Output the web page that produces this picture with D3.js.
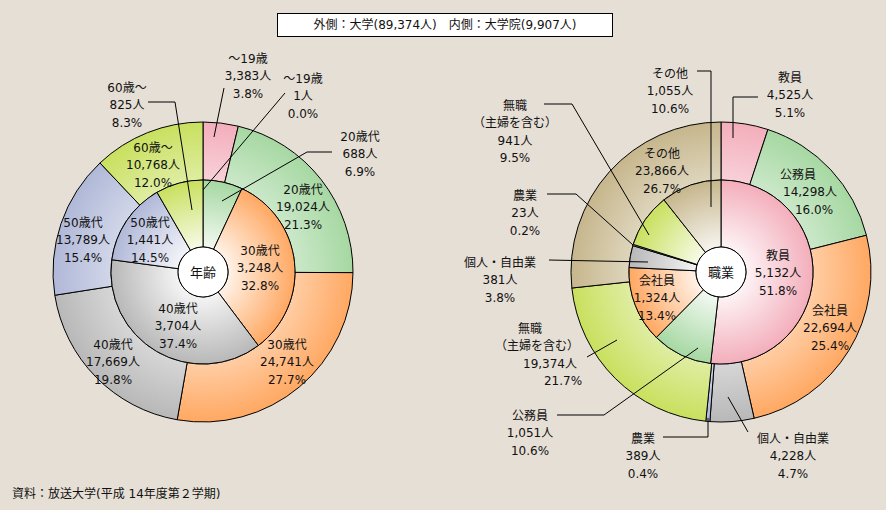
<!DOCTYPE html>
<html><head><meta charset="utf-8">
<script src="https://cdn.jsdelivr.net/npm/d3@7/dist/d3.min.js"></script>
<style>
html,body{margin:0;padding:0;background:#e6dfd6;}
svg{display:block;}
text{font-family:"DejaVu Sans","Noto Sans CJK JP",sans-serif;font-size:12px;fill:#111;}
</style></head>
<body><svg id="c" width="886" height="510"></svg>
<script>
// ---- data ----
const ageCategories = ["～19歳","20歳代","30歳代","40歳代","50歳代","60歳～"];
const ageUniversity = [3383,19024,24741,17669,13789,10768];   // outer
const ageGraduate  = [1,688,3248,3704,1441,825];               // inner
const jobCategories = ["教員","公務員","会社員","個人・自由業","農業","無職\n（主婦を含む）","その他"];
const jobUniversity = [4525,14298,22694,4228,389,19374,23866]; // outer
const jobGraduate  = [5132,1051,1324,381,23,941,1055];         // inner
const titleText = "外側：大学(89,374人)　内側：大学院(9,907人)";
const sourceText = "資料：放送大学(平成 14年度第２学期)";

// ---- styles ----
const ageColors = ["#f3aebb","#a6d8a2","#ffa862","#b8b8b8","#b0b8d8","#c8e05e"];
const jobColors = ["#f3aebb","#a6d8a2","#ffa862","#b8b8b8","#b0b8e0","#c8e05e","#c6b68c"];

const svg = d3.select("#c");
const defs = svg.append("defs");
const R0 = 25, R1 = 92, R2 = 150;
const fmtN = d3.format(",");
const fmtP = v => d3.format(".1f")(v) + "%";

function grad(id, base, inner, outer, lightAmt){
  const g = defs.append("radialGradient").attr("id", id)
    .attr("gradientUnits","userSpaceOnUse").attr("cx",0).attr("cy",0).attr("r",outer);
  const light = d3.interpolateRgb(base, "#ffffff")(lightAmt);
  g.append("stop").attr("offset", inner/outer).attr("stop-color", light);
  g.append("stop").attr("offset", 1).attr("stop-color", base);
}

function donut(key, cx, cy, cats, outerVals, innerVals, colors, centerLabel, labels, leaders){
  const g = svg.append("g").attr("transform",`translate(${cx},${cy})`);
  const pie = d3.pie().sort(null).value(d=>d);
  colors.forEach((c,i)=>{ grad(`${key}o${i}`, c, R1, R2, 0.42); grad(`${key}i${i}`, c, R0, R1, 0.85); });
  const outerArc = d3.arc().innerRadius(R1).outerRadius(R2);
  const innerArc = d3.arc().innerRadius(R0).outerRadius(R1);
  g.selectAll("path.o").data(pie(outerVals)).join("path").attr("class","o")
    .attr("d", outerArc).attr("fill",(d,i)=>`url(#${key}o${i})`)
    .attr("stroke","#000").attr("stroke-width",1);
  g.selectAll("path.i").data(pie(innerVals)).join("path").attr("class","i")
    .attr("d", innerArc).attr("fill",(d,i)=>`url(#${key}i${i})`)
    .attr("stroke","#000").attr("stroke-width",1);
  leaders.forEach(pts=>{
    svg.append("path").attr("d", d3.line()(pts)).attr("fill","none")
      .attr("stroke","#000").attr("stroke-width",1);
  });
  g.append("circle").attr("r",R0).attr("fill","#fff").attr("stroke","#000");
  g.append("text").attr("text-anchor","middle").attr("dy","0.36em").style("font-size","13px").text(centerLabel);
  const outerTot = d3.sum(outerVals), innerTot = d3.sum(innerVals);
  labels.forEach(l=>{
    const vals = l.ring === "o" ? outerVals : innerVals;
    const tot = l.ring === "o" ? outerTot : innerTot;
    const lines = cats[l.i].split("\n").concat([fmtN(vals[l.i]) + "人", fmtP(vals[l.i]/tot*100)]);
    const t = svg.append("text").attr("text-anchor","middle");
    lines.forEach((s,k)=>{
      t.append("tspan").attr("x", l.x + (l.dx ? l.dx[k] : 0)).attr("y", l.y + k*17.6 + 4.5).text(s);
    });
  });
}

// title
svg.append("rect").attr("x",277.5).attr("y",13.5).attr("width",335).attr("height",23)
  .attr("fill","#fff").attr("stroke","#000");
svg.append("text").attr("x",445).attr("y",25).attr("dy","0.36em").attr("text-anchor","middle").text(titleText);
svg.append("text").attr("x",12).attr("y",494).attr("dy","0.36em").text(sourceText);

donut("a", 203, 272, ageCategories, ageUniversity, ageGraduate, ageColors, "年齢",
  [
    {ring:"o", i:0, x:248, y:58},
    {ring:"i", i:0, x:303, y:78},
    {ring:"i", i:1, x:360, y:136},
    {ring:"i", i:5, x:127, y:87},
    {ring:"o", i:5, x:153, y:147},
    {ring:"o", i:1, x:303, y:189},
    {ring:"o", i:4, x:83, y:222},
    {ring:"i", i:4, x:150, y:222},
    {ring:"i", i:2, x:260, y:250},
    {ring:"i", i:3, x:178, y:308},
    {ring:"o", i:3, x:113, y:344},
    {ring:"o", i:2, x:287, y:344}
  ],
  [
    [[224,88],[214,137]],
    [[285,93],[203,190]],
    [[332,152],[307,152],[222,201]],
    [[148,102],[175,102],[192,210]]
  ]);

donut("b", 721, 272, jobCategories, jobUniversity, jobGraduate, jobColors, "職業",
  [
    {ring:"i", i:6, x:670, y:73},
    {ring:"o", i:0, x:790, y:77},
    {ring:"i", i:5, x:515, y:105},
    {ring:"i", i:4, x:525, y:195},
    {ring:"o", i:6, x:662, y:153},
    {ring:"o", i:1, x:808, y:174, dx:[-10,2,6]},
    {ring:"i", i:3, x:500, y:262},
    {ring:"i", i:0, x:778, y:255},
    {ring:"i", i:2, x:657, y:280},
    {ring:"o", i:2, x:830, y:310},
    {ring:"o", i:5, x:545, y:328, dx:[-15,-8,5,18]},
    {ring:"i", i:1, x:530, y:415},
    {ring:"o", i:4, x:643, y:438},
    {ring:"o", i:3, x:793, y:438}
  ],
  [
    [[697,71],[711,71],[711,207]],
    [[758,97],[733,97],[733,138]],
    [[544,104],[572,104],[649,235]],
    [[547,194],[576,194],[633,245]],
    [[549,260],[648,262]],
    [[587,357],[617,340]],
    [[557,415],[604,415],[698,348]],
    [[663,437],[708,437],[708,418]],
    [[748,432],[728,397]]
  ]);
</script></body></html>
